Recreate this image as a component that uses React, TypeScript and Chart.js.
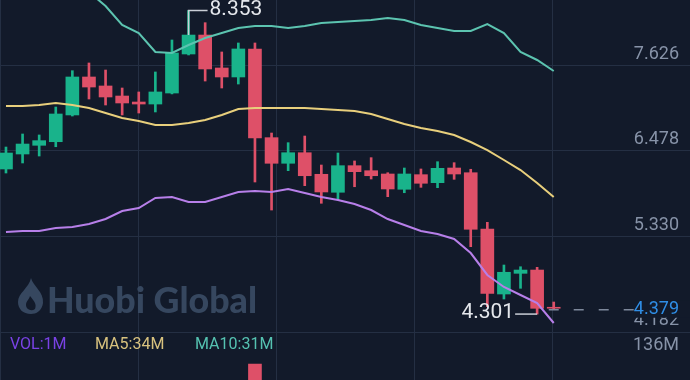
import React, { useEffect, useRef } from 'react';
import { Chart, registerables } from 'chart.js';

Chart.register(...registerables);

// ---- data ----
const OPEN = [6.238, 6.438, 6.554, 6.602, 6.959, 7.466, 7.346, 7.212, 7.132, 7.105, 7.252, 7.773, 8.026, 7.586, 7.466, 7.84, 6.656, 6.314, 6.455, 6.167, 5.927, 6.282, 6.215, 6.171, 5.967, 6.162, 6.055, 6.251, 6.188, 5.437, 4.569, 4.845, 4.889, 4.392];
const HIGH = [6.531, 6.705, 6.692, 7.065, 7.55, 7.653, 7.559, 7.319, 7.266, 7.533, 7.96, 8.353, 8.191, 7.8, 7.92, 7.92, 6.718, 6.589, 6.678, 6.291, 6.451, 6.345, 6.389, 6.188, 6.251, 6.238, 6.335, 6.322, 6.234, 5.526, 4.956, 4.933, 4.925, 4.462];
const LOW = [6.184, 6.318, 6.411, 6.535, 6.945, 7.172, 7.092, 6.959, 6.985, 6.999, 7.24, 7.76, 7.412, 7.319, 7.372, 6.064, 5.69, 6.215, 6.015, 5.78, 5.824, 6.001, 6.104, 5.868, 5.921, 5.993, 5.988, 6.1, 5.201, 4.4, 4.502, 4.645, 4.301, 4.37];
const CLOSE = [6.451, 6.571, 6.616, 6.972, 7.466, 7.332, 7.199, 7.119, 7.105, 7.266, 7.786, 8.026, 7.573, 7.466, 7.84, 6.651, 6.314, 6.455, 6.148, 5.931, 6.282, 6.202, 6.148, 5.971, 6.171, 6.047, 6.247, 6.171, 5.433, 4.578, 4.859, 4.889, 4.378, 4.379];
const BOLL_UP = [8.761, 8.747, 8.774, 8.787, 8.72, 8.6, 8.414, 8.16, 8.053, 7.8, 7.786, 7.893, 7.986, 8.053, 8.12, 8.147, 8.147, 8.12, 8.147, 8.187, 8.2, 8.213, 8.227, 8.253, 8.227, 8.16, 8.12, 8.08, 8.08, 8.173, 8.053, 7.8, 7.693, 7.546];
const BOLL_MB = [7.079, 7.079, 7.092, 7.119, 7.092, 7.052, 6.985, 6.919, 6.878, 6.825, 6.825, 6.852, 6.892, 6.959, 7.039, 7.052, 7.052, 7.052, 7.052, 7.039, 7.025, 7.012, 6.972, 6.905, 6.838, 6.785, 6.745, 6.691, 6.598, 6.491, 6.358, 6.224, 6.051, 5.864];
const BOLL_DN = [5.397, 5.41, 5.41, 5.45, 5.463, 5.504, 5.57, 5.677, 5.717, 5.851, 5.864, 5.797, 5.797, 5.864, 5.931, 5.944, 5.931, 5.971, 5.917, 5.864, 5.824, 5.77, 5.69, 5.57, 5.49, 5.41, 5.37, 5.303, 5.116, 4.823, 4.663, 4.556, 4.449, 4.182];
const VOLUME_M = [20, 18, 15, 25, 40, 22, 18, 15, 10, 20, 45, 50, 42, 25, 30, 95, 60, 28, 30, 35, 32, 18, 15, 22, 20, 22, 24, 26, 48, 60, 40, 25, 44, 1];

const PRICE_TICKS = [7.626, 6.478, 5.33, 4.182];
const PRICE_TICK_LABELS = ['7.626', '6.478', '5.330', '4.182'];
const VOL_TICK = 136;
const VOL_TICK_LABEL = '136M';
const HIGH_LABEL = '8.353';
const LOW_LABEL = '4.301';
const LAST_LABEL = '4.379';
const WATERMARK = 'Huobi Global';

// ---- styles ----
const BG = '#121a2a';
const GRID = '#242f43';
const GREEN = '#19b38b';
const RED = '#de5068';
const UP_C = '#5cc4b0';
const MB_C = '#e8cf7c';
const DN_C = '#b77fe9';
const AXIS_TXT = '#8793a8';
const FONT = 'Roboto, "Noto Sans", sans-serif';

const X_MIN = -0.36;
const X_MAX = 41.21;
const Y_MIN = 3.421;
const Y_MAX = 8.4937;
const V_MIN = 73.94;
const V_MAX = 575.7;

const idx = OPEN.map((_, i) => i);
const colorOf = (i: number) => (CLOSE[i] >= OPEN[i] ? GREEN : RED);

const overlay = {
  id: 'overlay',
  beforeDraw(chart: any) {
    const { ctx, width, height } = chart;
    ctx.save();
    ctx.fillStyle = BG;
    ctx.fillRect(0, 0, width, height);
    ctx.restore();
  },
  beforeDatasetsDraw(chart: any) {
    const { ctx } = chart;
    ctx.save();
    ctx.fillStyle = '#36475f';
    // flame logo
    ctx.beginPath();
    ctx.moveTo(31, 278);
    ctx.bezierCurveTo(33, 286, 44, 292, 43, 303);
    ctx.bezierCurveTo(42, 311, 36, 314, 31, 314);
    ctx.bezierCurveTo(23, 314, 18, 309, 18, 302);
    ctx.bezierCurveTo(18, 293, 29, 288, 31, 278);
    ctx.closePath();
    ctx.fill();
    ctx.fillStyle = BG;
    ctx.beginPath();
    ctx.moveTo(30, 296);
    ctx.bezierCurveTo(34, 301, 37, 304, 35, 309);
    ctx.bezierCurveTo(31, 312, 26, 309, 26, 305);
    ctx.bezierCurveTo(26, 301, 29, 300, 30, 296);
    ctx.closePath();
    ctx.fill();
    ctx.fillStyle = '#36475f';
    ctx.font = '900 36px Lato, "Open Sans", sans-serif';
    ctx.textBaseline = 'alphabetic';
    ctx.textAlign = 'left';
    const w = ctx.measureText(WATERMARK).width;
    ctx.translate(47, 313);
    ctx.scale(210 / w, 1);
    ctx.fillText(WATERMARK, 0, 0);
    ctx.restore();
  },
  afterDatasetsDraw(chart: any) {
    const { ctx } = chart;
    const xs = chart.scales.x;
    const ys = chart.scales.y;
    const yv = chart.scales.yVol;
    ctx.save();

    // price axis labels
    ctx.font = `18px ${FONT}`;
    ctx.fillStyle = AXIS_TXT;
    ctx.textAlign = 'right';
    ctx.textBaseline = 'middle';
    PRICE_TICKS.forEach((v, k) => {
      const py = ys.getPixelForValue(v);
      const off = k === PRICE_TICKS.length - 1 ? -2 : -11;
      ctx.fillText(PRICE_TICK_LABELS[k], 679, py + off);
    });
    ctx.fillText(VOL_TICK_LABEL, 679, yv.getPixelForValue(VOL_TICK) + 13);

    // high marker
    let hi = 0;
    let lo = 0;
    HIGH.forEach((v, i) => { if (v > HIGH[hi]) hi = i; });
    LOW.forEach((v, i) => { if (v < LOW[lo]) lo = i; });
    const hx = xs.getPixelForValue(hi);
    const hy = ys.getPixelForValue(HIGH[hi]);
    const hb = ys.getPixelForValue(Math.max(OPEN[hi], CLOSE[hi]));
    ctx.strokeStyle = '#c9ced6';
    ctx.lineWidth = 1.5;
    ctx.beginPath();
    ctx.moveTo(hx, hb);
    ctx.lineTo(hx, hy);
    ctx.lineTo(hx + 19, hy);
    ctx.stroke();
    ctx.font = `21px ${FONT}`;
    ctx.fillStyle = '#e4e7ec';
    ctx.textAlign = 'left';
    ctx.fillText(HIGH_LABEL, hx + 21, hy - 1);

    // low marker
    const lx = xs.getPixelForValue(lo);
    const ly = ys.getPixelForValue(LOW[lo]);
    ctx.beginPath();
    ctx.moveTo(lx, ly);
    ctx.lineTo(lx - 22, ly);
    ctx.stroke();
    ctx.textAlign = 'right';
    ctx.fillText(LOW_LABEL, lx - 23, ly - 1);

    // last price dashed line + label
    const last = CLOSE.length - 1;
    const cx = xs.getPixelForValue(last);
    const cy = ys.getPixelForValue(CLOSE[last]) + 1.5;
    ctx.strokeStyle = '#7d889b';
    ctx.lineWidth = 1.5;
    ctx.setLineDash([10, 15]);
    ctx.beginPath();
    ctx.moveTo(cx - 5, cy);
    ctx.lineTo(640, cy);
    ctx.stroke();
    ctx.setLineDash([]);
    ctx.fillStyle = BG;
    ctx.fillRect(634, cy - 9, 56, 17);
    ctx.font = `18px ${FONT}`;
    ctx.fillStyle = '#2f8ee6';
    ctx.textAlign = 'right';
    ctx.fillText(LAST_LABEL, 679, cy);

    // volume legend
    const n = VOLUME_M.length;
    const ma = (k: number) => Math.round(VOLUME_M.slice(n - k).reduce((a, b) => a + b, 0) / k);
    const vy = yv.getPixelForValue(VOL_TICK) + 12;
    ctx.font = `16px ${FONT}`;
    ctx.textAlign = 'left';
    ctx.fillStyle = '#7a42e6';
    ctx.fillText(`VOL:${VOLUME_M[n - 1]}M`, 10, vy);
    ctx.fillStyle = '#d8c27e';
    ctx.fillText(`MA5:${ma(5)}M`, 95, vy);
    ctx.fillStyle = '#55c2b1';
    ctx.fillText(`MA10:${ma(10)}M`, 195, vy);
    ctx.restore();
  },
};

export default function App() {
  const ref = useRef<HTMLCanvasElement>(null);
  useEffect(() => {
    document.body.style.margin = '0';
    document.body.style.background = BG;
    const canvas = ref.current!;
    const chart = new Chart(canvas, {
      type: 'bar',
      data: {
        datasets: [
          {
            type: 'line',
            data: idx.map((i) => ({ x: i, y: BOLL_UP[i] })),
            borderColor: UP_C,
            borderWidth: 2,
            pointRadius: 0,
            order: 0,
          } as any,
          {
            type: 'line',
            data: idx.map((i) => ({ x: i, y: BOLL_MB[i] })),
            borderColor: MB_C,
            borderWidth: 2,
            pointRadius: 0,
            order: 0,
          } as any,
          {
            type: 'line',
            data: idx.map((i) => ({ x: i, y: BOLL_DN[i] })),
            borderColor: DN_C,
            borderWidth: 2,
            pointRadius: 0,
            order: 0,
          } as any,
          {
            type: 'bar',
            data: idx.map((i) => ({ x: i, y: [OPEN[i], CLOSE[i]] })),
            backgroundColor: idx.map(colorOf),
            barThickness: 13,
            grouped: false,
            order: 1,
          } as any,
          {
            type: 'bar',
            data: idx.map((i) => ({ x: i, y: [LOW[i], HIGH[i]] })),
            backgroundColor: idx.map(colorOf),
            barThickness: 2,
            grouped: false,
            order: 2,
          } as any,
          {
            type: 'bar',
            data: idx.map((i) => ({ x: i, y: VOLUME_M[i] })),
            backgroundColor: idx.map(colorOf),
            barThickness: 13,
            grouped: false,
            yAxisID: 'yVol',
            order: 3,
          } as any,
        ],
      },
      options: {
        responsive: false,
        animation: false,
        layout: { padding: 0 },
        plugins: { legend: { display: false }, tooltip: { enabled: false } },
        scales: {
          x: {
            type: 'linear',
            min: X_MIN,
            max: X_MAX,
            offset: false,
            grid: { color: GRID, lineWidth: 1, drawTicks: false, offset: false },
            border: { display: false },
            ticks: { display: false },
            afterBuildTicks: (s: any) => {
              s.ticks = [0, 1, 2, 3, 4, 5].map((k) => ({ value: X_MIN + (k * (X_MAX - X_MIN)) / 5 }));
            },
            afterFit: (s: any) => { s.height = 0; },
          },
          y: {
            type: 'linear',
            position: 'right',
            min: Y_MIN,
            max: Y_MAX,
            grid: { color: GRID, lineWidth: 1, drawTicks: false },
            border: { display: false },
            ticks: { display: false },
            afterBuildTicks: (s: any) => {
              s.ticks = PRICE_TICKS.slice(0, 3).map((v) => ({ value: v }));
            },
            afterFit: (s: any) => { s.width = 0; },
          },
          yVol: {
            type: 'linear',
            position: 'right',
            min: V_MIN,
            max: V_MAX,
            grid: { color: GRID, lineWidth: 1, drawTicks: false },
            border: { display: false },
            ticks: { display: false },
            afterBuildTicks: (s: any) => {
              s.ticks = [{ value: VOL_TICK }];
            },
            afterFit: (s: any) => { s.width = 0; },
          },
        },
      } as any,
      plugins: [overlay],
    });
    return () => chart.destroy();
  }, []);
  return (
    <div style={{ position: 'fixed', left: 0, top: 0, width: 690, height: 380, background: BG }}>
      <canvas ref={ref} width={690} height={380} style={{ display: 'block' }} />
    </div>
  );
}
